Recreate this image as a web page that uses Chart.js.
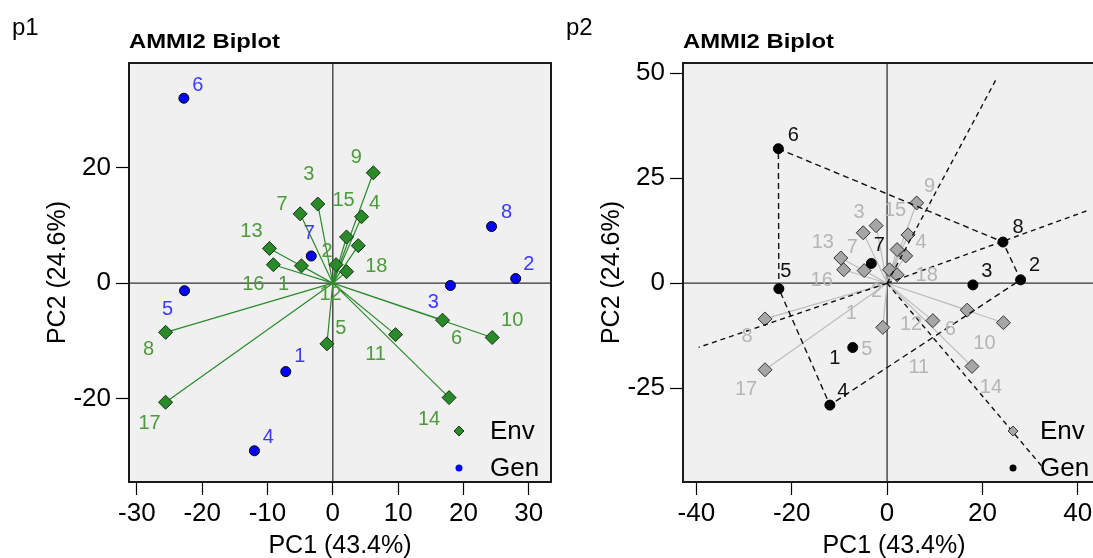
<!DOCTYPE html>
<html>
<head>
<meta charset="utf-8">
<script src="https://cdn.jsdelivr.net/npm/chart.js@4.4.1/dist/chart.umd.min.js"></script>
<style>
html, body { margin: 0; padding: 0; background: #fff; overflow: hidden; }
#wrap { position: relative; width: 1093px; height: 558px; overflow: hidden; }
canvas { position: absolute; top: 0; }
#p1 { left: 0; }
#p2 { left: 554px; }
</style>
</head>
<body>
<div id="wrap">
  <canvas id="p1" width="560" height="558"></canvas>
  <canvas id="p2" width="560" height="558"></canvas>
</div>
<script>
// genotype scores (PC1, PC2)
var genLabels = ["1", "2", "3", "4", "5", "6", "7", "8"];
var genPC1 = [-7.2, 28.0, 18.0, -12.0, -22.7, -22.8, -3.3, 24.3];
var genPC2 = [-15.3, 0.8, -0.4, -29.0, -1.3, 32.0, 4.7, 9.8];

// environment scores (PC1, PC2)
var envLabels = ["1", "2", "3", "4", "5", "6", "7", "8", "9", "10", "11", "12", "13", "14", "15", "16", "17", "18"];
var envPC1 = [-4.8, 0.5, -2.3, 4.4, -0.9, 16.8, -5.0, -25.6, 6.2, 24.4, 9.6, 2.1, -9.7, 17.8, 2.1, -9.1, -25.6, 3.9];
var envPC2 = [3.0, 3.2, 13.7, 11.5, -10.5, -6.4, 12.0, -8.5, 19.1, -9.4, -8.9, 2.0, 6.0, -19.8, 8.0, 3.2, -20.6, 6.5];

// which-won-where polygon (genotype labels) and the edges that get a sector line
var hullGen = ["6", "8", "2", "4", "5", "6"];
var sectorEdges = [["6", "8"], ["8", "2"], ["2", "4"], ["4", "5"]];

var p1XTicks = [-30, -20, -10, 0, 10, 20, 30];
var p1YTicks = [-20, 0, 20];
var p2XTicks = [-40, -20, 0, 20, 40];
var p2YTicks = [-25, 0, 25, 50];

// label offsets in pixels (text placement only)
var p1GenOff = [[14, -15], [13, -14], [-17, 17], [14, -13], [-17, 19], [14, -13], [-2, -23], [15, -14]];
var p1EnvOff = [[-18, 19], [-9, -13], [-9, -30], [13, -13], [14, -15], [14, 18], [-18, -9], [-17, 17], [-17, -15],
    [20, -17], [-20, 20], [-16, 23], [-18, -17], [-20, 22], [-3, -36], [-20, 20], [-16, 21], [18, 21]];
var p2GenOff = [[-18, 11], [14, -14], [14, -13], [13, -14], [7, -17], [15, -13], [8, -18], [15, -15]];
var p2EnvOff = [[-13, 43], [-13, 22], [-17, -13], [13, 8], [-16, 22], [-17, 19], [-11, 15], [-18, 18], [13, -16],
    [-19, 21], [-14, 47], [14, 50], [-18, -16], [19, 21], [-2, -39], [-22, 11], [-19, 20], [21, 20]];

Chart.defaults.font.family = "'Liberation Sans', Arial, sans-serif";
Chart.defaults.animation = false;

function pointsOf(xs, ys) {
    return xs.map(function (v, i) { return {x: v, y: ys[i]}; });
}

function raysOf(xs, ys) {
    var d = [];
    for (var i = 0; i < xs.length; i++) {
        d.push({x: 0, y: 0});
        d.push({x: xs[i], y: ys[i]});
        d.push({x: xs[i], y: null});
    }
    return d;
}

function genPoint(lab) {
    var i = genLabels.indexOf(lab);
    return {x: genPC1[i], y: genPC2[i]};
}

// perpendicular from the origin to each polygon edge, run out to the data limits
function sectorLines(xlo, xhi, ylo, yhi) {
    var d = [];
    var cx = (xlo + xhi) / 2, hx = (xhi - xlo) / 2 / 1.08;
    var cy = (ylo + yhi) / 2, hy = (yhi - ylo) / 2 / 1.08;
    var lx0 = cx - hx, lx1 = cx + hx, ly0 = cy - hy, ly1 = cy + hy;
    sectorEdges.forEach(function (e) {
        var a = genPoint(e[0]), b = genPoint(e[1]);
        var nx = b.y - a.y, ny = -(b.x - a.x);
        if (nx * a.x + ny * a.y < 0) { nx = -nx; ny = -ny; }
        var tx = nx > 0 ? lx1 / nx : lx0 / nx;
        var ty = ny > 0 ? ly1 / ny : ly0 / ny;
        var t = Math.min(tx, ty);
        d.push({x: 0, y: 0});
        d.push({x: nx * t, y: ny * t});
        d.push({x: nx * t, y: null});
    });
    return d;
}

function axisOpts(pos, lo, hi, ticks) {
    return {
        type: 'linear',
        position: pos,
        min: lo,
        max: hi,
        afterBuildTicks: function (s) {
            s.ticks = ticks.map(function (v) { return {value: v}; });
        },
        afterFit: function (s) {
            if (pos === 'left') s.width = 129;
            else s.height = 76;
        },
        grid: {drawOnChartArea: false, drawTicks: true, tickLength: 13, tickColor: '#000', tickWidth: 1.2},
        border: {display: false},
        ticks: {
            color: '#000',
            font: {size: 26},
            padding: pos === 'left' ? 5 : 3,
            maxRotation: 0,
            autoSkip: false,
            callback: function (v) { return String(v); }
        }
    };
}

function drawDiamond(ctx, x, y, r, fill, stroke) {
    ctx.beginPath();
    ctx.moveTo(x - r, y);
    ctx.lineTo(x, y - r);
    ctx.lineTo(x + r, y);
    ctx.lineTo(x, y + r);
    ctx.closePath();
    ctx.fillStyle = fill;
    ctx.fill();
    ctx.strokeStyle = stroke;
    ctx.lineWidth = 1;
    ctx.stroke();
}

function decor(cfg) {
    return {
        id: 'decor' + cfg.tag,
        beforeDraw: function (chart) {
            var a = chart.chartArea, ctx = chart.ctx;
            ctx.save();
            ctx.fillStyle = '#f0f0f0';
            ctx.fillRect(a.left, a.top, a.right - a.left, a.bottom - a.top);
            ctx.restore();
        },
        beforeDatasetsDraw: function (chart) {
            var a = chart.chartArea, ctx = chart.ctx;
            var x0 = chart.scales.x.getPixelForValue(0), y0 = chart.scales.y.getPixelForValue(0);
            ctx.save();
            ctx.strokeStyle = '#333';
            ctx.lineWidth = 1.3;
            ctx.beginPath();
            ctx.moveTo(x0, a.top); ctx.lineTo(x0, a.bottom);
            ctx.moveTo(a.left, y0); ctx.lineTo(a.right, y0);
            ctx.stroke();
            ctx.restore();
        },
        afterDraw: function (chart) {
            var a = chart.chartArea, ctx = chart.ctx;
            var sx = chart.scales.x, sy = chart.scales.y;
            ctx.save();
            // point labels
            ctx.textAlign = 'center';
            ctx.textBaseline = 'middle';
            ctx.font = "20px 'Liberation Sans', Arial, sans-serif";
            envLabels.forEach(function (t, i) {
                ctx.fillStyle = cfg.envText;
                ctx.fillText(t, sx.getPixelForValue(envPC1[i]) + cfg.envOff[i][0], sy.getPixelForValue(envPC2[i]) + cfg.envOff[i][1]);
            });
            genLabels.forEach(function (t, i) {
                ctx.fillStyle = cfg.genText;
                ctx.fillText(t, sx.getPixelForValue(genPC1[i]) + cfg.genOff[i][0], sy.getPixelForValue(genPC2[i]) + cfg.genOff[i][1]);
            });
            // legend (bottom right)
            var lx = a.right - 92;
            drawDiamond(ctx, lx, a.bottom - 51, 5, cfg.envFill, cfg.envEdge);
            ctx.beginPath();
            ctx.arc(lx, a.bottom - 14, 3.5, 0, Math.PI * 2);
            ctx.fillStyle = cfg.genFill;
            ctx.fill();
            ctx.fillStyle = '#000';
            ctx.textAlign = 'left';
            ctx.font = "26px 'Liberation Sans', Arial, sans-serif";
            ctx.fillText('Env', a.right - cfg.legendText, a.bottom - 50);
            ctx.fillText('Gen', a.right - cfg.legendText, a.bottom - 13);
            // box
            ctx.strokeStyle = '#1a1a1a';
            ctx.lineWidth = 2;
            ctx.strokeRect(a.left, a.top, a.right - a.left, a.bottom - a.top);
            // titles
            ctx.fillStyle = '#000';
            ctx.textBaseline = 'alphabetic';
            ctx.font = "24px 'Liberation Sans', Arial, sans-serif";
            ctx.fillText(cfg.tag, 12, 35);
            ctx.font = "bold 20px 'Liberation Sans', Arial, sans-serif";
            var w = ctx.measureText('AMMI2 Biplot').width;
            ctx.save();
            ctx.translate(a.left, 48);
            ctx.scale(151 / w, 1);
            ctx.fillText('AMMI2 Biplot', 0, 0);
            ctx.restore();
            ctx.textAlign = 'center';
            ctx.textBaseline = 'middle';
            ctx.font = "25px 'Liberation Sans', Arial, sans-serif";
            ctx.fillText('PC1 (43.4%)', (a.left + a.right) / 2, 546);
            ctx.save();
            ctx.translate(58, (a.top + a.bottom) / 2);
            ctx.rotate(-Math.PI / 2);
            ctx.fillText('PC2 (24.6%)', 0, 0);
            ctx.restore();
            ctx.restore();
        }
    };
}

function makePanel(id, cfg, datasets) {
    return new Chart(document.getElementById(id), {
        type: 'scatter',
        data: {datasets: datasets},
        options: {
            responsive: false,
            devicePixelRatio: 1,
            layout: {padding: {left: 0, right: 9, top: 63, bottom: 0}},
            plugins: {legend: {display: false}, tooltip: {enabled: false}},
            scales: {
                x: axisOpts('bottom', cfg.xlim[0], cfg.xlim[1], cfg.xticks),
                y: axisOpts('left', cfg.ylim[0], cfg.ylim[1], cfg.yticks)
            }
        },
        plugins: [decor(cfg)]
    });
}

// p1: environment vectors and genotype points
var p1 = {tag: 'p1', xlim: [-31.2, 33.4], ylim: [-34.4, 38.1], xticks: p1XTicks, yticks: p1YTicks,
    envOff: p1EnvOff, genOff: p1GenOff, envText: '#4c9a3c', genText: '#3a3aff',
    envFill: '#2a8a2a', envEdge: '#163016', genFill: '#0000ff', legendText: 61};
makePanel('p1', p1, [
    {type: 'line', data: raysOf(envPC1, envPC2), borderColor: '#2a8a2a', borderWidth: 1.2, pointRadius: 0, spanGaps: false, order: 5},
    {data: pointsOf(envPC1, envPC2), pointStyle: 'rectRot', pointRadius: 7, backgroundColor: '#2a8a2a', borderColor: '#163016', borderWidth: 1, order: 4},
    {data: pointsOf(genPC1, genPC2), pointStyle: 'circle', pointRadius: 5, backgroundColor: '#0000ff', borderColor: '#000', borderWidth: 1, order: 1}
]);

// p2: which-won-where
var p2 = {tag: 'p2', xlim: [-42.8, 45.7], ylim: [-47.3, 52.4], xticks: p2XTicks, yticks: p2YTicks,
    envOff: p2EnvOff, genOff: p2GenOff, envText: '#b5b5b5', genText: '#111',
    envFill: '#a6a6a6', envEdge: '#333', genFill: '#000', legendText: 65};
makePanel('p2', p2, [
    {type: 'line', data: raysOf(envPC1, envPC2), borderColor: '#bdbdbd', borderWidth: 1.2, pointRadius: 0, spanGaps: false, order: 5},
    {data: pointsOf(envPC1, envPC2), pointStyle: 'rectRot', pointRadius: 7, backgroundColor: '#a6a6a6', borderColor: '#333', borderWidth: 1, order: 4},
    {type: 'line', data: hullGen.map(genPoint), borderColor: '#111', borderWidth: 1.4, borderDash: [6, 4], pointRadius: 0, order: 3},
    {type: 'line', data: sectorLines(p2.xlim[0], p2.xlim[1], p2.ylim[0], p2.ylim[1]), borderColor: '#111', borderWidth: 1.4, borderDash: [5, 4], pointRadius: 0, spanGaps: false, order: 2},
    {data: pointsOf(genPC1, genPC2), pointStyle: 'circle', pointRadius: 5, backgroundColor: '#000', borderColor: '#000', borderWidth: 1, order: 1}
]);
</script>
</body>
</html>
